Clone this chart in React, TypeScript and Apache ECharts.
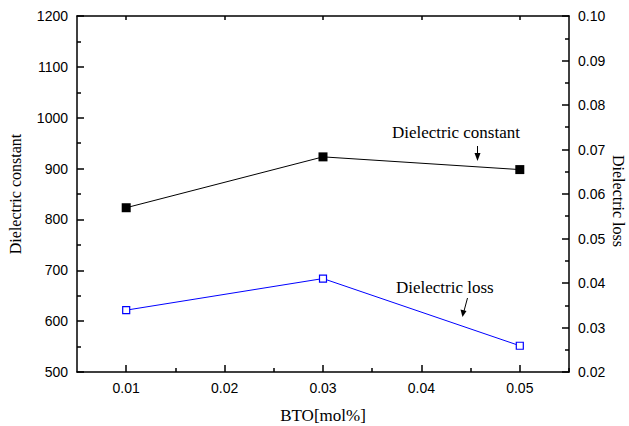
import React, { useEffect, useRef } from "react";
import * as echarts from "echarts";

const btoContent = [0.01, 0.03, 0.05];
const dielectricConstant = [823, 923, 898];
const dielectricLoss = [0.0339, 0.041, 0.0259];
const xMajorTicks = [0.01, 0.02, 0.03, 0.04, 0.05];
const xMinorTicks = [0.015, 0.025, 0.035, 0.045, 0.055];

const SERIF = "'Liberation Serif', 'Times New Roman', serif";
const SANS = "'Liberation Sans', Arial, sans-serif";

export default function App() {
  const ref = useRef<HTMLDivElement>(null);
  useEffect(() => {
    if (!ref.current) return;
    const chart = echarts.init(ref.current, null, { renderer: "svg" });
    const axisLine = { show: true, lineStyle: { color: "#000", width: 1.5 } };
    const option: any = {
      animation: false,
      backgroundColor: "#fff",
      grid: { left: 77, top: 16, right: 60, bottom: 54, containLabel: false, outerBoundsMode: "none" },
      xAxis: [
        {
          type: "value",
          position: "bottom",
          min: 0.005,
          max: 0.055,
          interval: 0.005,
          name: "BTO[mol%]",
          nameLocation: "middle",
          nameGap: 35,
          nameTextStyle: { fontFamily: SERIF, fontSize: 17, color: "#000" },
          axisLine,
          axisTick: { show: true, inside: true, length: 7, customValues: xMajorTicks, lineStyle: { color: "#000", width: 1.5 } },
          axisLabel: { show: true, customValues: xMajorTicks, margin: 9, fontFamily: SANS, fontSize: 14, color: "#000", formatter: (v: number) => v.toFixed(2) },
          splitLine: { show: false },
        },
        {
          type: "value",
          position: "bottom",
          min: 0.005,
          max: 0.055,
          interval: 0.005,
          axisLine: { show: false },
          axisTick: { show: true, inside: true, length: 4, customValues: xMinorTicks, lineStyle: { color: "#000", width: 1.5 } },
          axisLabel: { show: false },
          splitLine: { show: false },
        },
        {
          type: "value",
          position: "top",
          min: 0.005,
          max: 0.055,
          interval: 0.005,
          axisLine,
          axisTick: { show: true, inside: true, length: 4, customValues: xMajorTicks, lineStyle: { color: "#000", width: 1.5 } },
          axisLabel: { show: false },
          splitLine: { show: false },
        },
      ],
      yAxis: [
        {
          type: "value",
          position: "left",
          min: 500,
          max: 1200,
          interval: 100,
          name: "Dielectric constant",
          nameLocation: "middle",
          nameGap: 54,
          nameTextStyle: { fontFamily: SERIF, fontSize: 16, color: "#000" },
          axisLine,
          axisTick: { show: true, inside: true, length: 7, lineStyle: { color: "#000", width: 1.5 } },
          minorTick: { show: true, splitNumber: 2, length: 4, lineStyle: { color: "#000", width: 1.5 } },
          axisLabel: { margin: 9, fontFamily: SANS, fontSize: 14, color: "#000", formatter: (v: number) => String(v) },
          splitLine: { show: false },
          minorSplitLine: { show: false },
        },
        {
          type: "value",
          position: "right",
          min: 0.02,
          max: 0.1,
          interval: 0.01,
          axisLine,
          axisTick: { show: true, inside: true, length: 7, lineStyle: { color: "#000", width: 1.5 } },
          minorTick: { show: true, splitNumber: 2, length: 4, lineStyle: { color: "#000", width: 1.5 } },
          axisLabel: { margin: 9, fontFamily: SANS, fontSize: 14, color: "#000", formatter: (v: number) => v.toFixed(2) },
          splitLine: { show: false },
          minorSplitLine: { show: false },
        },
      ],
      series: [
        {
          name: "Dielectric constant",
          type: "line",
          xAxisIndex: 0,
          yAxisIndex: 0,
          data: btoContent.map((x, i) => [x, dielectricConstant[i]]),
          symbol: "rect",
          symbolSize: 9,
          itemStyle: { color: "#000" },
          lineStyle: { color: "#000", width: 1 },
        },
        {
          name: "Dielectric loss",
          type: "line",
          xAxisIndex: 0,
          yAxisIndex: 1,
          data: btoContent.map((x, i) => [x, dielectricLoss[i]]),
          symbol: "rect",
          symbolSize: 7,
          itemStyle: { color: "#fff", borderColor: "#0000ff", borderWidth: 1.2 },
          lineStyle: { color: "#0000ff", width: 1 },
        },
      ],
      graphic: [
        {
          type: "text",
          x: 618,
          y: 201,
          rotation: -Math.PI / 2,
          style: { text: "Dielectric loss", font: `16px ${SERIF}`, fill: "#000", align: "center", verticalAlign: "middle" },
        },
        { type: "text", left: 392, top: 124, style: { text: "Dielectric constant", font: `17px ${SERIF}`, fill: "#000" } },
        { type: "line", shape: { x1: 477.5, y1: 146, x2: 477.5, y2: 157 }, style: { stroke: "#000", lineWidth: 1 } },
        { type: "polygon", shape: { points: [[474.5, 153], [480.5, 153], [477.5, 161]] }, style: { fill: "#000" } },
        { type: "text", left: 396, top: 279, style: { text: "Dielectric loss", font: `17px ${SERIF}`, fill: "#000" } },
        { type: "line", shape: { x1: 467.5, y1: 298, x2: 464, y2: 311 }, style: { stroke: "#000", lineWidth: 1 } },
        { type: "polygon", shape: { points: [[460.5, 309.5], [466.5, 311], [462.5, 317]] }, style: { fill: "#000" } },
      ],
    };
    chart.setOption(option);
    return () => chart.dispose();
  }, []);
  return <div ref={ref} style={{ position: "fixed", left: 0, top: 0, width: 629, height: 426 }} />;
}
